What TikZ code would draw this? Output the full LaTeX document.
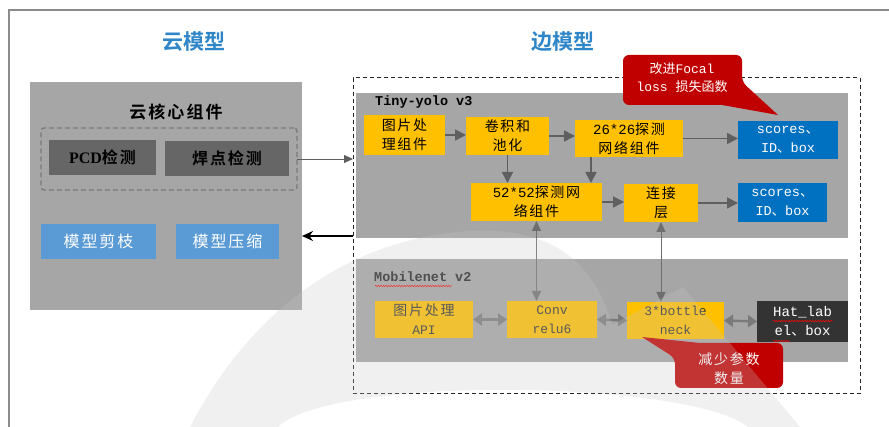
\documentclass[tikz,border=0pt]{standalone}
\usepackage{fontspec}
\setmainfont{Liberation Mono}
\newfontfamily\mono{Liberation Mono}
\newfontfamily\serif{Liberation Serif}
\newfontfamily\zh{Noto Sans CJK SC}[BoldFont={Noto Sans CJK SC Bold}]
\newfontfamily\zhs{Noto Sans CJK SC}[LetterSpace=12,BoldFont={Noto Sans CJK SC Bold}]
\usetikzlibrary{arrows.meta,decorations.pathmorphing,calc}
\newcommand\fsz[2]{\fontsize{#1}{#2}\selectfont}
\definecolor{cpanel}{HTML}{A6A6A6}
\definecolor{cdark}{HTML}{666666}
\definecolor{clblue}{HTML}{5B9BD5}
\definecolor{cyel}{HTML}{FFC000}
\definecolor{cblue}{HTML}{0070C0}
\definecolor{cblack}{HTML}{333333}
\definecolor{cred}{HTML}{C00000}
\definecolor{ctitle}{HTML}{2E86C8}
\definecolor{carrow}{HTML}{5F5F5F}
\definecolor{cgray}{HTML}{6E6E6E}
\definecolor{cdarr}{HTML}{7A7A7A}
\definecolor{cframe}{HTML}{8C8C8C}
\definecolor{cdash}{HTML}{7A7A7A}
\definecolor{cwm}{HTML}{C8C8C8}
\begin{document}
\begin{tikzpicture}[x=1pt,y=-1pt,
  box/.style={anchor=north west, inner sep=0pt, outer sep=0pt, align=center},
  panel/.style={box, fill=cpanel},
  ybox/.style={box, fill=cyel, font=\zhs\fsz{14}{19}},
  mbox/.style={box, fill=cyel, text=black!80, font=\zhs\fsz{14}{19}},
  sbox/.style={box, fill=cblue, text=white, font=\mono\fsz{13.5}{19}},
  gbox/.style={box, fill=cdark, font=\zhs\bfseries\fsz{16}{20}},
  lbbox/.style={box, fill=clblue, text=white, font=\zhs\fsz{16}{20}},
  title/.style={text=ctitle, font=\zh\bfseries\fsz{21}{24}},
  plabel/.style={anchor=west, inner sep=0pt, font=\mono\bfseries\fsz{13.5}{16}},
  arr/.style={draw=carrow, line width=1.6pt, -{Triangle[length=11pt,width=11pt]}},
  varr/.style={draw=cgray, line width=1pt, {Triangle[length=10pt,width=9pt]}-{Triangle[length=10pt,width=9pt]}},
  darr/.style={draw=cdarr, line width=2.4pt, {Triangle[length=9pt,width=12pt]}-{Triangle[length=9pt,width=12pt]}},
  callout/.style={fill=cred},
  ctext/.style={text=white, align=center, inner sep=0pt, font=\zh\fsz{13}{18}},
  wavy/.style={draw=red, line width=0.5pt, decorate, decoration={snake, amplitude=0.7pt, segment length=2.6pt}},
]
\fill[white] (0,0) rectangle (889,427);
\useasboundingbox (0,0) rectangle (889,427);
\draw[cframe, line width=1.6pt] (9,427) -- (9,10) -- (889,10);

% titles
\node[title] (t1) at (194,42) {云模型};
\node[title] (t2) at (563,42) {边模型};

% cloud model
\node[panel, minimum width=272pt, minimum height=228pt] (cloud) at (30,82) {};
\node[font=\zhs\bfseries\fsz{17}{20}, inner sep=0pt] (core) at (176,112) {云核心组件};
\node[box, draw=cdash, dashed, dash pattern=on 5pt off 3pt, line width=1.4pt, rounded corners=3pt,
      minimum width=256pt, minimum height=62pt] (coredash) at (41,128) {};
\node[gbox, minimum width=107pt, minimum height=35pt] (pcd) at (49,140) {{\serif\bfseries PCD}检测};
\node[gbox, minimum width=124pt, minimum height=35pt] (weld) at (165,141) {焊点检测};
\node[lbbox, minimum width=115pt, minimum height=35pt] (prune) at (41,224) {模型剪枝};
\node[lbbox, minimum width=103pt, minimum height=35pt] (compress) at (176,224) {模型压缩};

% edge model
\node[box, draw=black!85, dashed, dash pattern=on 4pt off 3pt, line width=1pt,
      minimum width=507pt, minimum height=316pt] (edge) at (353,78) {};
\node[panel, minimum width=492pt, minimum height=145pt] (tiny) at (356,93) {};
\node[plabel] (tinylabel) at (375,102) {Tiny-yolo v3};

\node[ybox, minimum width=81pt, minimum height=40pt] (y1) at (364,115) {图片处\\理组件};
\node[ybox, minimum width=83pt, minimum height=38pt] (y2) at (466,117) {卷积和\\池化};
\node[ybox, minimum width=108pt, minimum height=37pt] (y3) at (575,120) {{\mono 26*26}探测\\网络组件};
\node[sbox, minimum width=100pt, minimum height=38pt] (s1) at (738,121) {scores{\zh 、}\\ID{\zh 、}box};
\node[ybox, minimum width=131pt, minimum height=38pt] (y4) at (471,183) {{\mono 52*52}探测网\\络组件};
\node[ybox, minimum width=74pt, minimum height=38pt] (y5) at (624,184) {连接\\层};
\node[sbox, minimum width=89pt, minimum height=39pt] (s2) at (738,183) {scores{\zh 、}\\ID{\zh 、}box};

\node[panel, minimum width=492pt, minimum height=103pt] (mobile) at (356,259) {};
\node[plabel, text=black!85] (mobilelabel) at (374,277) {Mobilenet v2};

\node[mbox, minimum width=98pt, minimum height=37pt] (m1) at (375,301) {图片处理\\{\mono\fsz{13}{19}API}};
\node[mbox, minimum width=90pt, minimum height=37pt, font=\mono\fsz{13}{19}] (m2) at (507,301) {Conv\\relu6};
\node[mbox, minimum width=97pt, minimum height=37pt, font=\mono\fsz{13}{19}] (m3) at (627,302) {3*bottle\\neck};
\node[box, fill=cblack, text=white, font=\mono\fsz{14}{19}, minimum width=91pt, minimum height=41pt] (m4) at (757,301) {Hat\_lab\\el{\zh 、}box};

% wavy spell-check underlines
\draw[wavy] (375,286) -- (452,286);
\draw[wavy] (773,321) -- (833,321);
\draw[wavy] (773,341) -- (790,341);

% arrows tiny-yolo
\draw[arr] (y1.east) -- (y1.east -| y2.west);
\draw[arr] (y2.east) -- (y2.east -| y3.west);
\draw[arr] (y3.east) -- (y3.east -| s1.west);
\draw[arr] (y2.south) -- (y2.south |- y4.north);
\draw[arr] ([xshift=16pt]y3.south west) -- ([xshift=16pt]y3.south west |- y4.north);
\draw[arr] (y4.east) -- (y4.east -| y5.west);
\draw[arr] (y5.east) -- (y5.east -| s2.west);

% vertical links
\draw[varr] (y4.south) -- (y4.south |- m2.north);
\draw[varr] (y5.south) -- (y5.south |- m3.north);

% mobilenet double arrows
\draw[darr] (m1.east) -- (m2.west);
\draw[darr] (m2.east) -- (m3.west);
\draw[darr] (m3.east) -- (m4.west);

% cross arrows
\draw[draw=carrow, line width=0.9pt, -{Triangle[length=9pt,width=8pt]}] (coredash.east) -- (coredash.east -| edge.west);
\draw[draw=black, line width=1.3pt, -{Stealth[length=11pt,width=10pt]}] (edge.west) -- (edge.west -| cloud.east);

% callouts
\fill[callout] (623,55) [rounded corners=6pt] -- (742,55) -- (742,82) [sharp corners] -- (778,115) -- (722,105) [rounded corners=6pt] -- (623,105) -- cycle;
\node[ctext] (c1) at (682,78) {改进{\mono Focal}\\{\mono loss }损失函数};
\fill[callout] (642,337) -- (700,343) [rounded corners=6pt] -- (783,343) -- (783,388) -- (675,388) -- (675,358) [sharp corners] -- cycle;
\node[ctext, font=\zhs\fsz{14}{19}] (c2) at (729,369) {减少参数\\数量};

% watermark overlay
\fill[cwm, opacity=0.26] (190,427) .. controls (240,330) and (330,240) .. (470,231)
   .. controls (540,228) and (590,250) .. (612,325) -- (683,287) -- (800,427) -- (748,427)
   .. controls (690,380) and (330,375) .. (278,427) -- cycle;
\end{tikzpicture}
\end{document}
